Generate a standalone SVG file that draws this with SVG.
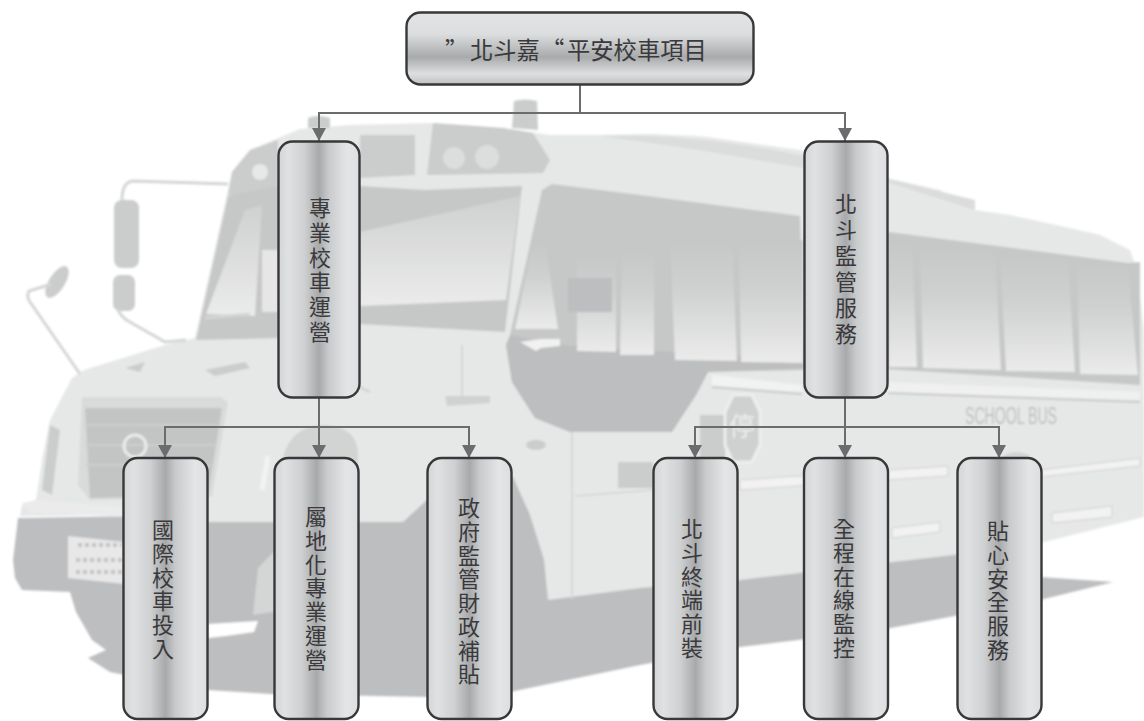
<svg xmlns="http://www.w3.org/2000/svg" width="1144" height="721" viewBox="0 0 1144 721">
<style>
.node{stroke:#38383a;stroke-width:2.4}
.v{fill:url(#gv)}
.lbl{font-family:"Noto Sans CJK TC","Noto Sans CJK SC",sans-serif;fill:#3a3a3c;font-size:22px;writing-mode:vertical-rl;letter-spacing:1.7px}
.edge{fill:none;stroke:#6b6c6e;stroke-width:2;marker-end:url(#arr)}
.dk{fill:#bdbebf}
.fr{fill:#c6c7c7}
.md{fill:#cbcccc}
.lt{fill:#e6e7e7}
.pane{fill:url(#gp)}
.wire{fill:none;stroke:#d4d5d5;stroke-width:3}
</style>
<defs>
<linearGradient id="gv" x1="0" y1="0" x2="1" y2="0">
<stop offset="0" stop-color="#d4d5d7"/><stop offset=".12" stop-color="#e0e1e2"/><stop offset=".32" stop-color="#cfd0d2"/><stop offset=".5" stop-color="#a8a9ab"/><stop offset=".62" stop-color="#c9cacc"/><stop offset=".85" stop-color="#e4e5e6"/><stop offset="1" stop-color="#dddedf"/>
</linearGradient>
<linearGradient id="gh" x1="0" y1="0" x2="0" y2="1">
<stop offset="0" stop-color="#e3e4e5"/><stop offset=".3" stop-color="#dcddde"/><stop offset=".62" stop-color="#a9aaac"/><stop offset=".85" stop-color="#dedfe0"/><stop offset="1" stop-color="#bfc0c2"/>
</linearGradient>
<linearGradient id="gp" x1="0" y1="0" x2="0" y2="1">
<stop offset="0" stop-color="#c6c7c7"/><stop offset=".4" stop-color="#cfd0d0"/><stop offset="1" stop-color="#ebebeb"/>
</linearGradient>
<linearGradient id="gw" x1="0" y1="0" x2="0" y2="1">
<stop offset="0" stop-color="#cfd0d0"/><stop offset="1" stop-color="#ebebeb"/>
</linearGradient>
<marker id="arr" markerUnits="userSpaceOnUse" markerWidth="14" markerHeight="14" refX="13" refY="7" orient="auto">
<path d="M0 0L13 7L0 14Z" fill="#6b6c6e"/>
</marker>
<filter id="soft" x="-2%" y="-2%" width="104%" height="104%"><feGaussianBlur stdDeviation="1"/></filter>
</defs>
<rect width="1144" height="721" fill="#fff"/>
<g id="bus" filter="url(#soft)">
<path class="dk" d="M18 518L13 560L15 578L22 590L70 592L76 612L92 640L106 650L88 658L110 672L150 680L208 690L270 694L430 697L510 692L640 665L740 647L880 630L1040 600L1113 582L1040 577L955 552L700 520L513 477L208 515Z"/>
<path d="M208 624L258 621L254 632L226 636L208 638Z" fill="#fff"/>
<path class="lt" d="M22 505L36 500L42 460L50 420L72 378L84 370L165 345L195 338L232 172L250 150L300 129L350 125L433 123L503 128L550 135L600 135L650 134L700 136L800 150L860 172L940 190L975 210L1010 215L1070 228L1100 235L1130 250L1137 270L1144 330V517L1040 543L953 555L740 580L640 588L548 600L544 560L530 515L513 477L480 470L440 488L403 522L208 522L125 515L20 516Z"/>
<path d="M600 136C680 132 800 150 860 172L975 200L975 210L890 183L700 150Z" fill="#dbdcdc"/>
<path class="md" d="M433 123L503 128L533 133L550 160L543 173L427 175Z"/>
<path class="md" d="M360 135H415V175L360 178Z"/>
<path class="md" d="M232 172L250 150L278 140V195L228 195Z"/>
<circle cx="260" cy="172" r="8" fill="#e8e8e8"/>
<circle cx="454" cy="158" r="11" fill="#dcdddd"/>
<circle cx="487" cy="157" r="12" fill="#dcdddd"/>
<path class="md" d="M512 128L514 101Q525 98 537 101L538 130Z"/>
<path class="md" d="M308 118Q318 114 330 118V128H308Z"/>
<path class="fr" d="M228 196L278 186H360L425 190L522 186L505 332L360 324L280 338L196 340Z"/>
<path d="M206 314L245 210L262 205L255 316Z" fill="url(#gw)"/>
<path d="M262 250H278V312H262Z" fill="#e6e6e6"/>
<path d="M360 232L520 196L506 300L360 306Z" fill="url(#gw)"/>
<path class="wire" d="M205 318L250 314"/>
<path class="fr" d="M552 184L640 195L800 216L804 364L1140 385V262L1128 263L889 232H804V370L708 372L696 395L672 431L570 432L535 418L512 382L506 345L510 335L542 190Z"/>
<path class="dk" d="M506 345L512 382L535 418L570 432H672L696 395L708 372L804 368V360L560 345L510 335Z"/>
<path class="pane" d="M515 329L533 242H545L558 329Z"/>
<path class="pane" d="M577 255H616V352L577 351Z"/>
<path class="pane" d="M622 250H654V355H620Z"/>
<path class="pane" d="M670 240H732L737 361L675 360Z"/>
<path class="pane" d="M739 240H803V363L741 362Z"/>
<path class="pane" d="M889 240L912 243L917 367H889Z"/>
<path class="pane" d="M920 245L995 253L1001 370L923 368Z"/>
<path class="pane" d="M1000 253L1068 260L1075 372L1006 371Z"/>
<path class="pane" d="M1077 262L1128 268L1138 375L1080 374Z"/>
<path class="dk" d="M568 278H612V312H568Z"/>
<path d="M520 342L541 339H560V346L541 348L536 351Z" fill="#f1f1f1"/>
<path d="M712 375L802 385V392L712 386Z" fill="#f2f2f2"/>
<path d="M888 382L1140 392V400L888 392Z" fill="#f0f0f0"/>
<path d="M712 387L802 394M888 393L1140 402" stroke="#c9cacb" stroke-width="2" fill="none"/>
<path d="M740 480L948 466V476L740 490Z" fill="#f2f2f2" stroke="#cfcfcf"/>
<path d="M1040 470L1140 458V466L1040 477Z" fill="#f2f2f2" stroke="#cfcfcf"/>
<path d="M892 528L940 522V532L892 538Z" fill="#f2f2f2" stroke="#cfcfcf"/>
<path d="M1052 513L1112 506V517L1052 523Z" fill="#f2f2f2" stroke="#cfcfcf"/>
<path d="M572 432V600M575 496L653 490" stroke="#d3d4d4" stroke-width="1.5" fill="none"/>
<path class="md" d="M618 462H653V488H618Z"/>
<ellipse cx="536" cy="445" rx="10" ry="5" class="md"/>
<path d="M1000 458Q1015 447 1030 456V462H1000Z" fill="#d2d3d3"/>
<path d="M283 458Q290 428 320 425Q358 425 358 455V500L283 505Z" fill="#d2d3d3"/>
<path d="M293 505L302 462L268 470L255 490Z" fill="#e6e7e7"/>
<path d="M262 490L268 456" stroke="#f3f3f3" stroke-width="5"/>
<path class="md" d="M700 415H725V462H700Z"/>
<path d="M733 395H752L760 412V445L752 462H733L725 445V412Z" fill="#cfd0d0" stroke="#eeeeee" stroke-width="3"/>
<path d="M82 397H220L228 402L212 497L90 500L78 485Z" fill="#d9dada"/>
<path d="M85 408H222L208 495L90 498Z" fill="#c3c4c4"/>
<path d="M85 425H218M85 445H215M85 465H212" stroke="#cdcece" stroke-width="2"/>
<circle cx="135" cy="446" r="11" fill="none" stroke="#ececec" stroke-width="3"/>
<path d="M50 425L42 490L52 495L60 430Z" class="md"/>
<path d="M22 503L36 500L130 508V517L30 512Z" fill="#ebebeb"/>
<path d="M68 536L125 542V584L68 578Z" fill="#e8e8e8"/>
<path d="M78 545H122M76 560H122M76 572H122" stroke="#c2c3c3" stroke-width="4" stroke-dasharray="4 3"/>
<path d="M258 568L285 540V610L253 615Z" fill="#d4d5d5"/>
<path class="md" d="M205 370L245 362L250 368L215 376Z"/>
<path class="md" d="M125 368L145 362L140 372Z"/>
<path d="M334 375L370 392" stroke="#cfd0d0" stroke-width="2"/>
<path d="M445 396H490V403L447 406Z" fill="#d0d1d1"/>
<path d="M462 345V396" stroke="#cfd0d0" stroke-width="1.5"/>
<rect x="114" y="200" width="25" height="68" rx="8" class="md"/>
<rect x="113" y="275" width="22" height="36" rx="7" class="md"/>
<ellipse cx="57" cy="282" rx="8" ry="18" transform="rotate(32 57 282)" class="md"/>
<path class="wire" d="M122 200Q122 182 133 181L228 184"/>
<path class="wire" d="M118 310Q122 318 130 322L165 342L186 340"/>
<path class="wire" d="M52 284L29 291Q26 296 30 302L80 374"/>
<text x="742" y="436" font-family="Noto Sans CJK TC, sans-serif" font-size="26" text-anchor="middle" fill="#eeeeee">停</text>
<text x="965" y="424" font-family="Liberation Sans, sans-serif" font-size="24" fill="#bdbebe" textLength="92" lengthAdjust="spacingAndGlyphs">SCHOOL BUS</text>
</g>
<g id="connectors">
<path class="edge" d="M580 85V113H319V141"/>
<path class="edge" d="M580 85V113H845V141"/>
<path class="edge" d="M319 397V458"/>
<path class="edge" d="M319 397V427H165V458"/>
<path class="edge" d="M319 397V427H469V458"/>
<path class="edge" d="M845 397V458"/>
<path class="edge" d="M845 397V427H695V458"/>
<path class="edge" d="M845 397V427H999V458"/>
</g>
<g id="root">
<rect class="node" x="406.500" y="12.500" width="347" height="72" rx="14" fill="url(#gh)"/>
<text y="59" font-family="Noto Sans CJK TC, Noto Sans CJK SC, sans-serif" font-size="23.300" fill="#3a3a3c"><tspan x="445">”</tspan><tspan x="470">北斗嘉</tspan><tspan x="541">“</tspan><tspan x="567">平安校車項目</tspan></text>
</g>
<g id="n-operate">
<rect class="node v" x="278.500" y="141.500" width="81" height="256" rx="14"/>
<text class="lbl" x="320" y="197" style="letter-spacing:2.7px">專業校車運營</text>
</g>
<g id="n-monitor">
<rect class="node v" x="804.500" y="141.500" width="83" height="256" rx="14"/>
<text class="lbl" x="846" y="193" style="letter-spacing:4px">北斗監管服務</text>
</g>
<g id="n-a1">
<rect class="node v" x="123.500" y="458" width="84" height="261" rx="14"/>
<text class="lbl" x="163" y="519">國際校車投入</text>
</g>
<g id="n-a2">
<rect class="node v" x="274.500" y="458" width="84" height="261" rx="14"/>
<text class="lbl" x="316" y="506">屬地化專業運營</text>
</g>
<g id="n-a3">
<rect class="node v" x="427.500" y="458" width="84" height="261" rx="14"/>
<text class="lbl" x="469" y="497">政府監管財政補貼</text>
</g>
<g id="n-b1">
<rect class="node v" x="653.500" y="458" width="84" height="261" rx="14"/>
<text class="lbl" x="692" y="518">北斗終端前裝</text>
</g>
<g id="n-b2">
<rect class="node v" x="804" y="458" width="84" height="261" rx="14"/>
<text class="lbl" x="844" y="518">全程在線監控</text>
</g>
<g id="n-b3">
<rect class="node v" x="957.500" y="458" width="84" height="261" rx="14"/>
<text class="lbl" x="998" y="520">貼心安全服務</text>
</g>
</svg>
